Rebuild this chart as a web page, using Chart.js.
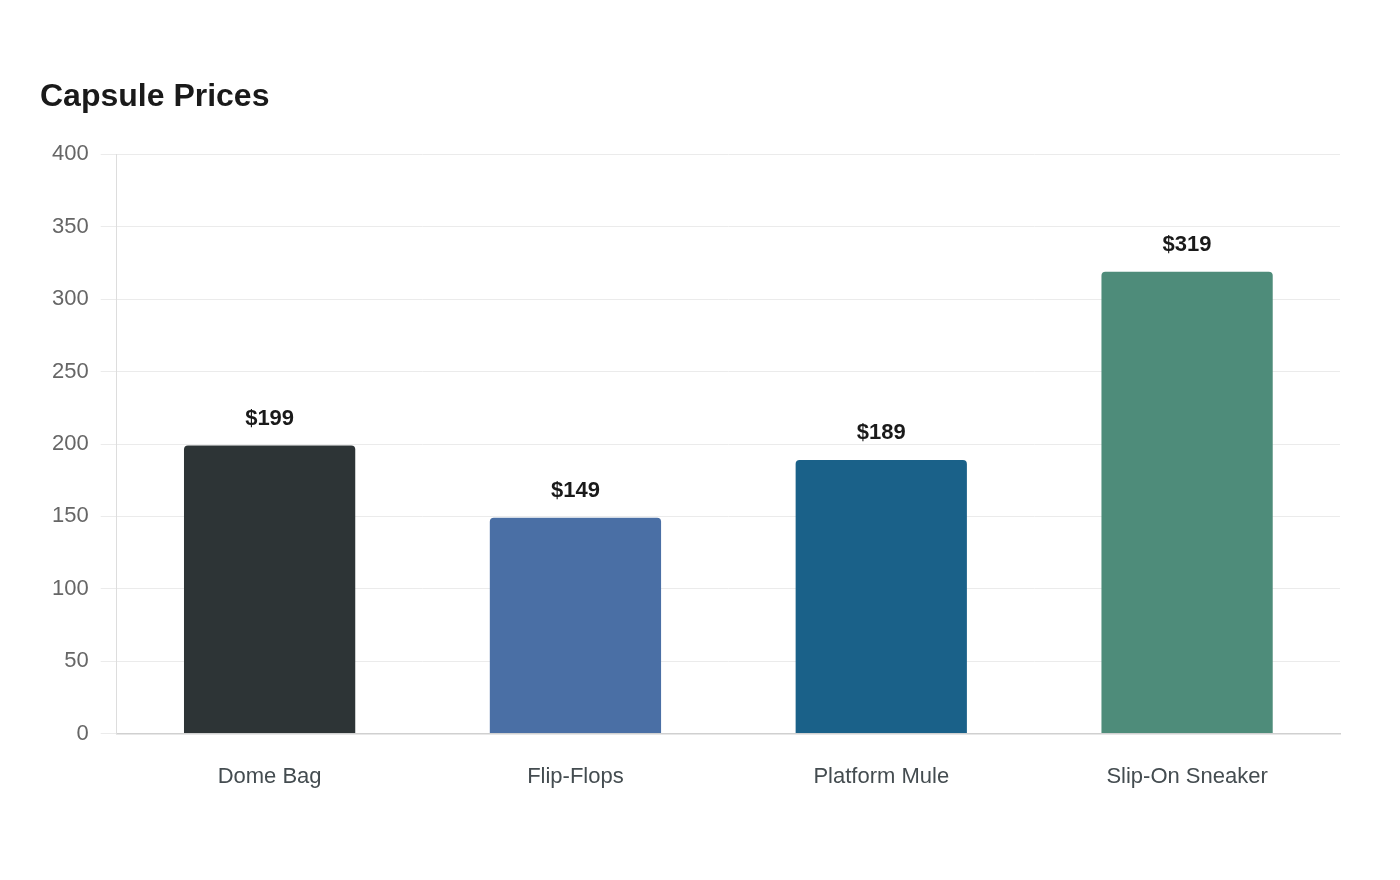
<!DOCTYPE html>
<html>
<head>
<meta charset="utf-8">
<script src="https://cdn.jsdelivr.net/npm/chart.js@4"></script>
<style>
  html, body { margin: 0; padding: 0; background: #fff; }
  #wrap { width: 1400px; height: 880px; position: relative; }
</style>
</head>
<body>
<div id="wrap"><canvas id="chart"></canvas></div>
<script>
(function() {
  const products = ['Dome Bag', 'Flip-Flops', 'Platform Mule', 'Slip-On Sneaker'];
  const prices = [199, 149, 189, 319];
  const barColors = ['#2d3436', '#4a6fa5', '#1a6189', '#4e8c7a'];
  const yTicks = [0, 50, 100, 150, 200, 250, 300, 350, 400];

  const fontFamily = '"Liberation Sans", Arial, sans-serif';

  // price labels over each bar
  const priceLabels = {
    id: 'priceLabels',
    afterDatasetsDraw(chart) {
      const ctx = chart.ctx;
      const meta = chart.getDatasetMeta(0);
      ctx.save();
      ctx.font = 'bold 22px ' + fontFamily;
      ctx.fillStyle = '#1a1a1a';
      ctx.textAlign = 'center';
      ctx.textBaseline = 'bottom';
      meta.data.forEach((bar, i) => {
        ctx.fillText('$' + prices[i], bar.x, bar.y - 16);
      });
      ctx.restore();
    }
  };

  new Chart(document.getElementById('chart'), {
    type: 'bar',
    data: {
      labels: products,
      datasets: [{
        data: prices,
        backgroundColor: barColors,
        borderRadius: { topLeft: 4, topRight: 4 },
        borderSkipped: 'bottom',
        categoryPercentage: 0.8,
        barPercentage: 0.7
      }]
    },
    options: {
      responsive: true,
      maintainAspectRatio: false,
      animation: false,
      layout: {
        padding: { left: 40, right: 60, top: 78, bottom: 68 }
      },
      plugins: {
        legend: { display: false },
        tooltip: { enabled: false },
        title: {
          display: true,
          text: 'Capsule Prices',
          align: 'start',
          color: '#1a1a1a',
          font: { family: fontFamily, size: 32, weight: 'bold' },
          padding: { top: 0, bottom: 38 }
        }
      },
      scales: {
        x: {
          grid: { display: false },
          border: { color: '#d0d0d0', width: 1.5 },
          ticks: {
            color: '#444c50',
            padding: 22,
            font: { family: fontFamily, size: 22 }
          }
        },
        y: {
          min: 0,
          max: 400,
          afterBuildTicks(axis) {
            axis.ticks = yTicks.map(v => ({ value: v }));
          },
          grid: { color: '#ebebeb', tickLength: 16 },
          border: { color: '#dddddd', width: 1 },
          ticks: {
            color: '#666666',
            padding: 12,
            font: { family: fontFamily, size: 22 }
          }
        }
      }
    },
    plugins: [priceLabels]
  });
})();
</script>
</body>
</html>
